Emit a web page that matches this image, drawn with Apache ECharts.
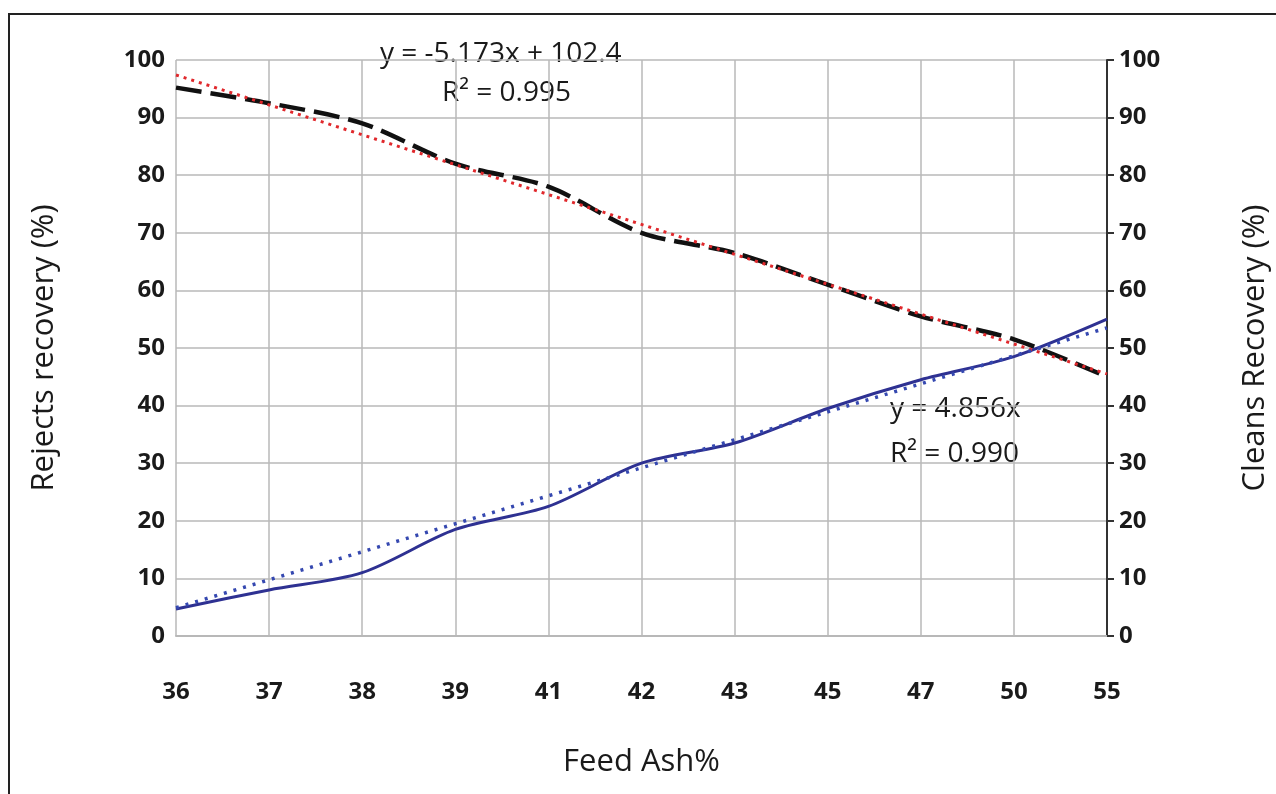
<!DOCTYPE html>
<html>
<head>
<meta charset="utf-8">
<script src="https://cdn.jsdelivr.net/npm/echarts@6/dist/echarts.min.js"></script>
<style>
  html, body { margin: 0; padding: 0; background: #fff; }
  #frame { position: absolute; left: 8px; top: 13px; width: 1300px; height: 900px; border: 2px solid #222; box-sizing: border-box; }
  #chart { position: absolute; left: 0; top: 0; width: 1276px; height: 794px; }
</style>
</head>
<body>
<div id="frame"></div>
<div id="chart"></div>
<script>
  const feedAsh = ['36', '37', '38', '39', '41', '42', '43', '45', '47', '50', '55'];
  const rejectsRecovery = [95.2, 92.5, 89, 82, 78, 70, 66.5, 61, 55.5, 51.5, 45];
  const cleansRecovery = [4.7, 8, 11, 18.5, 22.5, 30, 33.5, 39.5, 44.5, 48.5, 55];
  // trendline end points
  const rejectsTrend = [['36', 97.4], ['55', 45.5]];
  const cleansTrend = [['36', 4.9], ['55', 53.5]];
  const yTicks = { min: 0, max: 100, interval: 10 };

  const font = 'Open Sans';
  const textColor = '#1a1a1a';
  const gridColor = '#b8b8b8';
  const tickLabel = { fontFamily: font, fontWeight: 'bold', fontSize: 24, color: textColor };
  const nameStyle = { fontFamily: font, fontSize: 31, color: textColor };

  let option = {
    animation: false,
    grid: { left: 176, right: 169, top: 60, bottom: 158, outerBoundsMode: 'none', containLabel: false },
    xAxis: {
      type: 'category',
      data: feedAsh,
      boundaryGap: false,
      name: 'Feed Ash%',
      nameLocation: 'middle',
      nameGap: 111,
      nameTextStyle: nameStyle,
      axisLine: { lineStyle: { color: gridColor, width: 2 } },
      axisTick: { show: false },
      axisLabel: Object.assign({ margin: 44 }, tickLabel),
      splitLine: { show: true, lineStyle: { color: gridColor, width: 1.5 } }
    },
    yAxis: [
      {
        type: 'value',
        min: yTicks.min, max: yTicks.max, interval: yTicks.interval,
        name: 'Rejects recovery (%)',
        nameLocation: 'middle',
        nameGap: 116,
        nameTextStyle: nameStyle,
        axisLine: { show: false },
        axisTick: { show: false },
        axisLabel: Object.assign({ margin: 11 }, tickLabel),
        splitLine: { lineStyle: { color: gridColor, width: 1.5 } }
      },
      {
        type: 'value',
        position: 'right',
        min: yTicks.min, max: yTicks.max, interval: yTicks.interval,
        name: 'Cleans Recovery (%)',
        nameLocation: 'middle',
        nameGap: 133,
        nameTextStyle: nameStyle,
        axisLine: { show: true, lineStyle: { color: '#333', width: 2 } },
        axisTick: { show: true, inside: false, length: 7, lineStyle: { color: '#333', width: 2 } },
        axisLabel: Object.assign({ margin: 12 }, tickLabel),
        splitLine: { show: false }
      }
    ],
    graphic: [
      { type: 'text', left: 380, top: 40, style: { text: 'y = -5.173x + 102.4', font: '28px "Open Sans"', fill: textColor } },
      { type: 'text', left: 442, top: 79, style: { text: 'R² = 0.995', font: '28px "Open Sans"', fill: textColor } },
      { type: 'text', left: 890, top: 395, style: { text: 'y = 4.856x', font: '28px "Open Sans"', fill: textColor } },
      { type: 'text', left: 890, top: 440, style: { text: 'R² = 0.990', font: '28px "Open Sans"', fill: textColor } }
    ],
    series: [
      {
        name: 'Rejects',
        type: 'line',
        yAxisIndex: 0,
        smooth: 0.3,
        symbol: 'none',
        data: rejectsRecovery,
        lineStyle: { color: '#111', width: 4.5, type: [26, 9] }
      },
      {
        name: 'Cleans',
        type: 'line',
        yAxisIndex: 1,
        smooth: 0.3,
        symbol: 'none',
        data: cleansRecovery,
        lineStyle: { color: '#2e3192', width: 3 }
      },
      {
        name: 'Rejects trend',
        type: 'line',
        yAxisIndex: 0,
        symbol: 'none',
        data: rejectsTrend,
        lineStyle: { color: '#e0282c', width: 3, type: [3, 5] }
      },
      {
        name: 'Cleans trend',
        type: 'line',
        yAxisIndex: 1,
        symbol: 'none',
        data: cleansTrend,
        lineStyle: { color: '#3548b0', width: 3.5, type: [3, 7] }
      }
    ]
  };

  echarts.init(document.getElementById('chart')).setOption(option);
</script>
</body>
</html>
